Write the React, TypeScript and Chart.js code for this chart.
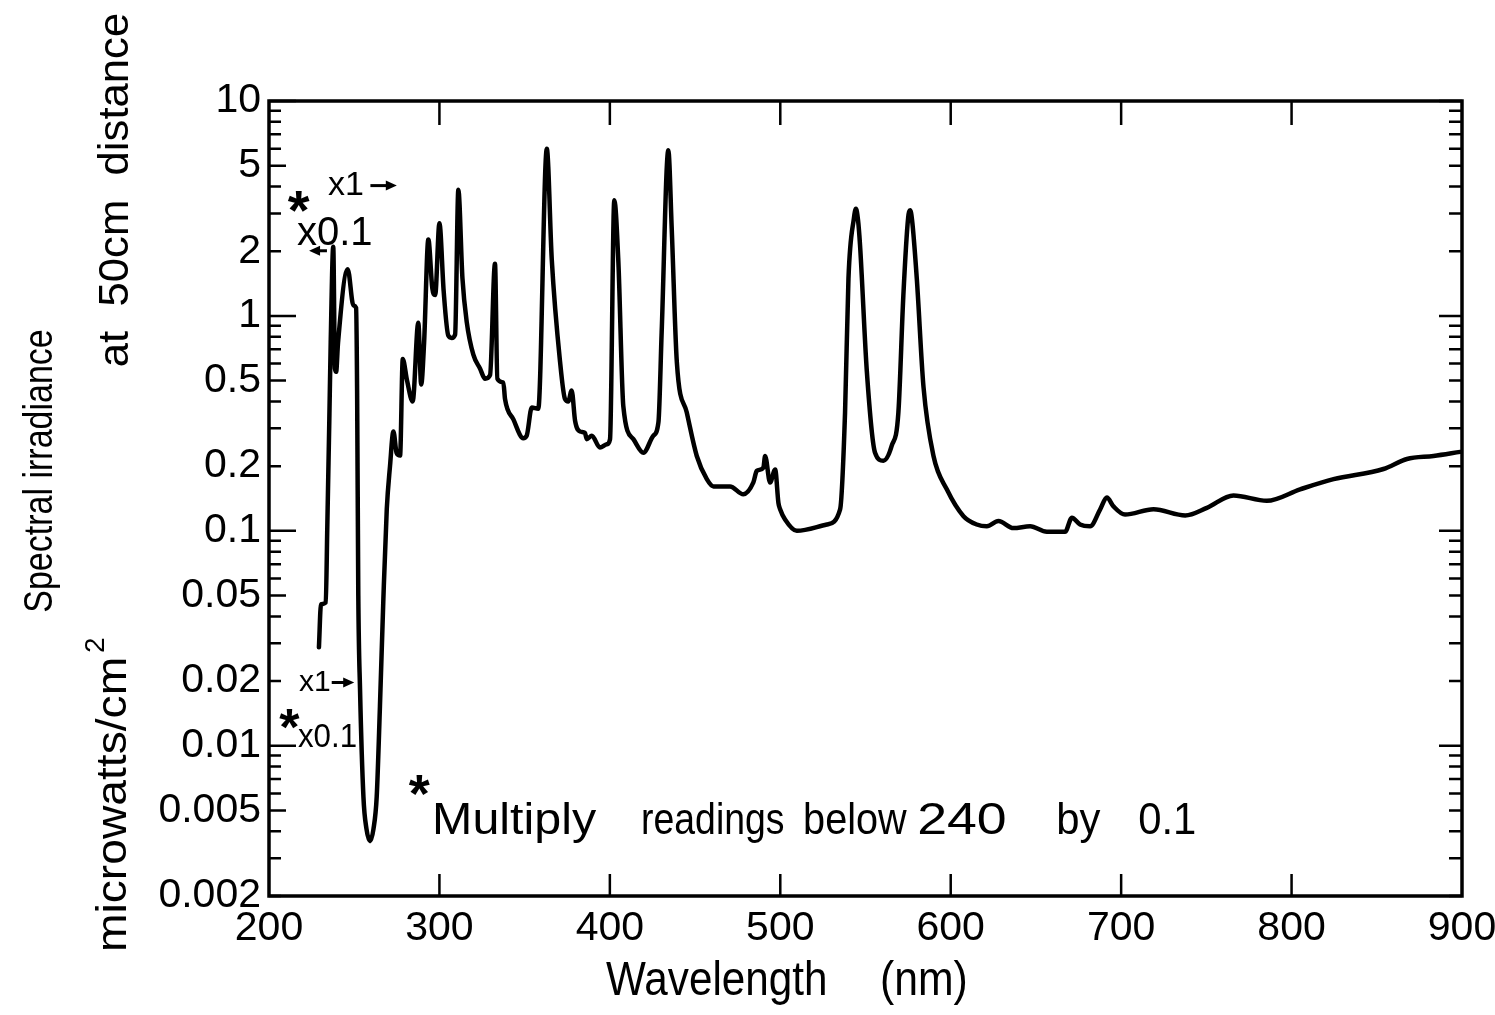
import React, { useEffect, useRef } from 'react';
import { Chart, registerables } from 'chart.js';

Chart.register(...registerables);

// ---------- data ----------
const wavelengthNm = [
  229.3, 230.5, 233.3, 234.2, 235.4, 236.2, 237.7, 238.7, 239.4, 240.5,
  246.2, 249.5, 251.1, 251.7, 252.4, 253.4, 255.4, 257.2, 259.3, 261.3,
  263.2, 265.1, 267.1, 269.1, 271.0, 273.0, 274.9, 276.9, 278.5, 281.0,
  284.3, 287.6, 289.3, 291.0, 293.5, 295.8, 297.5, 300.0, 302.5, 305.2,
  307.2, 309.2, 311.1, 313.5, 316.0, 319.9, 323.8, 326.8, 329.7, 332.6,
  334.0, 337.5, 338.5, 343.4, 349.2, 351.2, 354.2, 358.0, 363.0, 365.9,
  370.8, 373.7, 375.6, 377.6, 379.6, 382.5, 385.4, 386.4, 389.4, 394.2,
  398.2, 400.1, 402.6, 405.0, 407.9, 413.8, 419.7, 425.5, 428.5, 430.4,
  434.3, 436.3, 439.3, 445.1, 451.0, 456.9, 460.8, 470.5, 478.3, 484.2,
  486.2, 490.1, 491.1, 494.0, 497.0, 498.9, 499.9, 502.8, 509.7, 527.3,
  535.1, 538.0, 540.0, 543.2, 544.4, 545.6, 546.8, 550.8, 555.6, 560.5,
  565.4, 569.3, 572.2, 575.0, 576.2, 577.3, 580.1, 584.0, 589.9, 597.7,
  607.5, 615.3, 621.2, 628.0, 636.8, 646.6, 656.4, 667.1, 671.1, 675.9,
  681.8, 687.7, 691.6, 695.5, 702.3, 719.0, 737.6, 750.3, 765.9, 785.5,
  805.0, 824.6, 853.9, 867.7, 883.3, 899.0,
];

const irradiance = [
  0.0287, 0.0455, 0.0464, 0.104, 0.33, 0.75, 2.1, 0.57, 0.55, 0.75,
  1.65, 1.12, 1.09, 0.45, 0.05, 0.0185, 0.0058, 0.0041, 0.0036, 0.0041,
  0.0058, 0.0153, 0.048, 0.126, 0.2, 0.29, 0.23, 0.224, 0.63, 0.5,
  0.40, 0.93, 0.48, 0.75, 2.27, 1.35, 1.25, 2.7, 1.3, 0.81,
  0.79, 0.82, 3.86, 1.5, 0.94, 0.66, 0.57, 0.51, 0.53, 1.75,
  0.51, 0.49, 0.41, 0.33, 0.27, 0.277, 0.375, 0.37, 6.0, 1.84,
  0.61, 0.41, 0.40, 0.45, 0.325, 0.29, 0.286, 0.267, 0.277, 0.244,
  0.253, 0.267, 3.45, 1.78, 0.38, 0.267, 0.231, 0.277, 0.32, 0.84,
  5.9, 2.55, 0.61, 0.356, 0.223, 0.174, 0.161, 0.161, 0.148, 0.168,
  0.19, 0.197, 0.223, 0.168, 0.193, 0.135, 0.126, 0.113, 0.100, 0.107,
  0.126, 0.355, 1.49, 2.85, 3.15, 2.8, 2.13, 0.55, 0.231, 0.212,
  0.249, 0.356, 1.24, 2.85, 3.1, 2.8, 1.49, 0.47, 0.223, 0.156,
  0.117, 0.107, 0.105, 0.111, 0.103, 0.105, 0.099, 0.099, 0.115, 0.107,
  0.105, 0.126, 0.143, 0.130, 0.119, 0.126, 0.118, 0.128, 0.146, 0.138,
  0.156, 0.174, 0.194, 0.216, 0.223, 0.233,
];

const xTickValues = [200, 300, 400, 500, 600, 700, 800, 900];
const yTickValues = [10, 5, 2, 1, 0.5, 0.2, 0.1, 0.05, 0.02, 0.01, 0.005, 0.002];
const yTickLabels = ['10', '5', '2', '1', '0.5', '0.2', '0.1', '0.05', '0.02', '0.01', '0.005', '0.002'];
const logDecades = [0.001, 0.01, 0.1, 1, 10];
const minorMultipliers = [1, 2, 3, 4, 5, 6, 7, 8, 9];

const X_MIN = 200;
const X_MAX = 900;
const Y_MIN = 0.002;
const Y_MAX = 10;

const FONT = "'Liberation Sans', Arial, Helvetica, sans-serif";

// ---------- helpers ----------
type TextOpts = {
  rot?: number;
  sx?: number;
  align?: CanvasTextAlign;
  baseline?: CanvasTextBaseline;
  weight?: string;
};

function drawText(
  ctx: CanvasRenderingContext2D,
  s: string,
  px: number,
  py: number,
  size: number,
  o: TextOpts = {}
) {
  ctx.save();
  ctx.translate(px, py);
  if (o.rot) ctx.rotate(o.rot);
  ctx.scale(o.sx ?? 1, 1);
  ctx.font = `${o.weight ?? 'normal'} ${size}px ${FONT}`;
  ctx.textAlign = o.align ?? 'left';
  ctx.textBaseline = o.baseline ?? 'alphabetic';
  ctx.fillStyle = '#000';
  ctx.fillText(s, 0, 0);
  ctx.restore();
}

function drawArrow(ctx: CanvasRenderingContext2D, x0: number, y0: number, x1: number, y1: number) {
  const dir = Math.sign(x1 - x0);
  ctx.save();
  ctx.strokeStyle = '#000';
  ctx.fillStyle = '#000';
  ctx.lineWidth = 3;
  ctx.beginPath();
  ctx.moveTo(x0, y0);
  ctx.lineTo(x1 - dir * 8, y1);
  ctx.stroke();
  ctx.beginPath();
  ctx.moveTo(x1, y1);
  ctx.lineTo(x1 - dir * 11, y1 - 5);
  ctx.lineTo(x1 - dir * 11, y1 + 5);
  ctx.closePath();
  ctx.fill();
  ctx.restore();
}

const framePlugin = {
  id: 'frameTicksAnnotations',
  afterDraw(chart: any) {
    const { ctx, chartArea: a } = chart;
    const xs = chart.scales.x;
    const ys = chart.scales.y;
    ctx.save();
    ctx.strokeStyle = '#000';
    ctx.lineCap = 'butt';

    // frame
    ctx.lineWidth = 3.5;
    ctx.strokeRect(a.left, a.top, a.right - a.left, a.bottom - a.top);

    // x ticks (inward, bottom and top)
    ctx.lineWidth = 2.5;
    for (const v of xTickValues) {
      if (v === X_MIN || v === X_MAX) continue;
      const px = xs.getPixelForValue(v);
      ctx.beginPath();
      ctx.moveTo(px, a.bottom);
      ctx.lineTo(px, a.bottom - 22);
      ctx.moveTo(px, a.top);
      ctx.lineTo(px, a.top + 24);
      ctx.stroke();
    }

    // y ticks (inward, left and right)
    for (const d of logDecades) {
      for (const m of minorMultipliers) {
        const v = m * d;
        if (v < Y_MIN * 0.999 || v > Y_MAX * 1.001) continue;
        const py = ys.getPixelForValue(v);
        const lenL = m === 1 ? 27 : m === 5 ? 17 : 12;
        const lenR = m === 1 ? 23 : 13;
        ctx.beginPath();
        ctx.moveTo(a.left, py);
        ctx.lineTo(a.left + lenL, py);
        ctx.moveTo(a.right, py);
        ctx.lineTo(a.right - lenR, py);
        ctx.stroke();
      }
    }
    ctx.restore();

    // ---- annotations (anchored in data coordinates) ----
    const X = (v: number) => xs.getPixelForValue(v);
    const Y = (v: number) => ys.getPixelForValue(v);

    // upper left: x1 ->, * x0.1 <-
    drawText(ctx, 'x1', X(234.6), Y(4.04), 34, { baseline: 'middle' });
    drawArrow(ctx, X(259.5), Y(4.04), X(275.0), Y(4.04));
    drawText(ctx, '*', X(211.0), Y(3.0), 56, { baseline: 'middle', weight: 'bold' });
    drawText(ctx, 'x0.1', X(216.4), Y(2.41), 40, { baseline: 'middle' });
    drawArrow(ctx, X(234.0), Y(2.01), X(223.5), Y(2.01));

    // lower left: x1 ->, * x0.1
    drawText(ctx, 'x1', X(217.6), Y(0.0197), 30, { baseline: 'middle' });
    drawArrow(ctx, X(236.8), Y(0.0197), X(250.0), Y(0.0197));
    drawText(ctx, '*', X(206.0), Y(0.0118), 52, { baseline: 'middle', weight: 'bold' });
    drawText(ctx, 'x0.1', X(217.0), Y(0.0109), 34, { baseline: 'middle', sx: 0.92 });

    // footnote
    drawText(ctx, '*', X(282.0), Y(0.0058), 54, { baseline: 'middle', weight: 'bold' });
    const baseV = 0.0039;
    drawText(ctx, 'Multiply', X(295.7), Y(baseV), 44, { sx: 1.1 });
    drawText(ctx, 'readings', X(418.3), Y(baseV), 44, { sx: 0.85 });
    drawText(ctx, 'below', X(513.4), Y(baseV), 44, { sx: 0.9 });
    drawText(ctx, '240', X(580.3), Y(baseV), 44, { sx: 1.22 });
    drawText(ctx, 'by', X(661.9), Y(baseV), 44, { sx: 0.95 });
    drawText(ctx, '0.1', X(710.0), Y(baseV), 44, { sx: 0.95 });

    // axis titles
    drawText(ctx, 'Wavelength', 606, 995, 48, { sx: 0.88 });
    drawText(ctx, '(nm)', 880, 995, 48, { sx: 0.89 });

    const rot = -Math.PI / 2;
    drawText(ctx, 'Spectral irradiance', 52, 471, 40, { rot, sx: 0.85, align: 'center' });
    drawText(ctx, 'microwatts/cm', 126, 952, 42, { rot, sx: 1.1, align: 'left' });
    drawText(ctx, '2', 104, 653, 28, { rot, align: 'left' });
    drawText(ctx, 'at  50cm  distance', 128, 190, 42, { rot, sx: 1.04, align: 'center' });
  },
};

export default function App() {
  const canvasRef = useRef<HTMLCanvasElement | null>(null);

  useEffect(() => {
    const canvas = canvasRef.current;
    if (!canvas) return;
    const points = wavelengthNm.map((w, i) => ({ x: w, y: irradiance[i] }));

    const chart = new Chart(canvas, {
      type: 'line',
      data: {
        datasets: [
          {
            label: 'Spectral irradiance',
            data: points,
            borderColor: '#000',
            borderWidth: 4.5,
            pointRadius: 0,
            fill: false,
            cubicInterpolationMode: 'monotone',
            borderJoinStyle: 'round',
            borderCapStyle: 'round',
          },
        ],
      },
      options: {
        animation: false,
        responsive: false,
        maintainAspectRatio: false,
        layout: { padding: { top: 101, right: 33, left: 0, bottom: 0 } },
        plugins: {
          legend: { display: false },
          tooltip: { enabled: false },
          title: { display: false },
        },
        scales: {
          x: {
            type: 'linear',
            min: X_MIN,
            max: X_MAX,
            afterBuildTicks: (s: any) => {
              s.ticks = xTickValues.map((v) => ({ value: v }));
            },
            afterFit: (s: any) => {
              s.height = 119;
              s.paddingLeft = 0;
              s.paddingRight = 0;
            },
            grid: { display: false, drawTicks: false },
            border: { display: false },
            ticks: {
              color: '#000',
              font: { family: FONT, size: 41 },
              padding: 8,
              maxRotation: 0,
              autoSkip: false,
            },
          },
          y: {
            type: 'logarithmic',
            min: Y_MIN,
            max: Y_MAX,
            afterBuildTicks: (s: any) => {
              s.ticks = yTickValues.map((v) => ({ value: v }));
            },
            afterFit: (s: any) => {
              s.width = 269;
              s.paddingTop = 0;
              s.paddingBottom = 0;
            },
            grid: { display: false, drawTicks: false },
            border: { display: false },
            ticks: {
              color: '#000',
              font: { family: FONT, size: 41 },
              padding: 8,
              autoSkip: false,
              callback: (value: any) => {
                const i = yTickValues.findIndex((v) => Math.abs(v - Number(value)) / v < 1e-6);
                return i >= 0 ? yTickLabels[i] : '';
              },
            },
          },
        },
      },
      plugins: [framePlugin],
    });

    return () => chart.destroy();
  }, []);

  return (
    <div style={{ position: 'fixed', left: 0, top: 0, width: 1495, height: 1015, background: '#fff' }}>
      <canvas ref={canvasRef} width={1495} height={1015} style={{ width: 1495, height: 1015, display: 'block' }} />
    </div>
  );
}
